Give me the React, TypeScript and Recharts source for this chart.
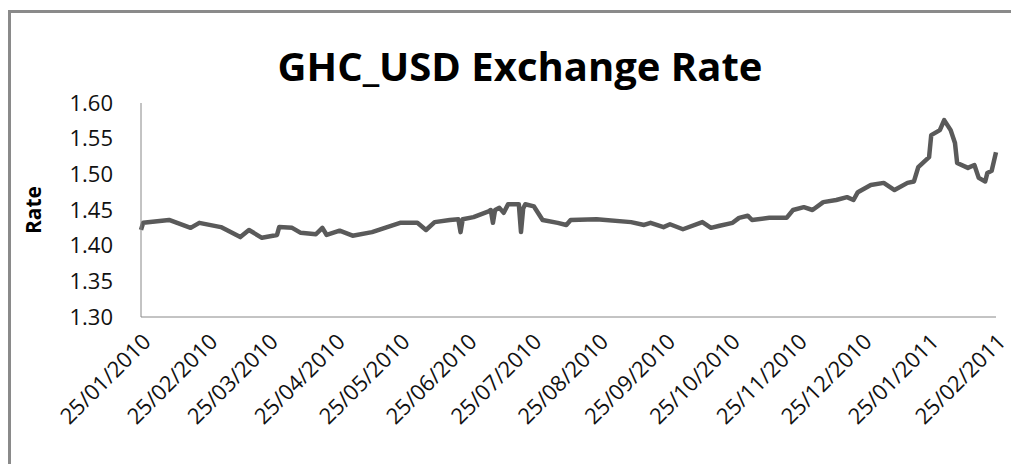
import { LineChart, Line, XAxis, YAxis } from 'recharts'

// days counted from 25/01/2010
const days = [
  0, 1, 13, 23, 27, 37, 46, 50, 56, 63, 64, 70, 74, 81, 84, 86, 92, 98, 107,
  120, 128, 132, 136, 143, 147, 148, 149, 154, 161, 162, 163, 164, 166, 168,
  170, 175, 176, 177, 178, 182, 186, 193, 197, 199, 211, 227, 233, 236, 242,
  245, 251, 260, 264, 268, 274, 277, 281, 283, 291, 299, 302, 307, 311, 316,
  322, 327, 330, 332, 338, 344, 349, 355, 358, 360, 365, 366, 370, 372, 375,
  377, 378, 383, 386, 388, 391, 392, 394, 396,
]
const rates = [
  1.422, 1.432, 1.436, 1.425, 1.432, 1.426, 1.412, 1.422, 1.411, 1.415, 1.426,
  1.425, 1.418, 1.416, 1.425, 1.415, 1.421, 1.414, 1.419, 1.432, 1.432, 1.422,
  1.433, 1.436, 1.437, 1.419, 1.437, 1.44, 1.448, 1.45, 1.432, 1.45, 1.453,
  1.446, 1.458, 1.458, 1.419, 1.452, 1.458, 1.455, 1.436, 1.432, 1.429, 1.436,
  1.437, 1.433, 1.429, 1.432, 1.426, 1.43, 1.423, 1.433, 1.425, 1.428, 1.432,
  1.439, 1.442, 1.436, 1.439, 1.439, 1.45, 1.454, 1.45, 1.461, 1.464, 1.468,
  1.464, 1.475, 1.485, 1.488, 1.478, 1.488, 1.49, 1.51, 1.524, 1.555, 1.562,
  1.576, 1.562, 1.544, 1.516, 1.509, 1.513, 1.495, 1.49, 1.502, 1.505, 1.531,
]

const tickDays = [0, 31, 59, 90, 120, 151, 181, 212, 243, 273, 304, 334, 365, 396]
const tickLabels = [
  '25/01/2010', '25/02/2010', '25/03/2010', '25/04/2010', '25/05/2010',
  '25/06/2010', '25/07/2010', '25/08/2010', '25/09/2010', '25/10/2010',
  '25/11/2010', '25/12/2010', '25/01/2011', '25/02/2011',
]
const rateTicks = [1.3, 1.35, 1.4, 1.45, 1.5, 1.55, 1.6]

const data = days.map((d, i) => ({ day: d, rate: rates[i] }))

const font = '"Open Sans", sans-serif'

export default function App() {
  return (
    <div style={{ position: 'relative', width: 1011, height: 456, overflow: 'hidden' }}>
      {/* caption of the page above, mostly cut off */}
      <div
        style={{
          position: 'absolute',
          left: 0,
          top: -25,
          fontFamily: '"Liberation Serif", serif',
          fontWeight: 'bold',
          fontSize: 21,
          whiteSpace: 'nowrap',
        }}
      >
        y Observed Exchange Rates of the GHC-USD
      </div>
      <div
        style={{
          position: 'absolute',
          left: 0,
          top: 2,
          width: 1100,
          height: 600,
          borderLeft: '3px solid #8a8a8a',
          borderTop: '3px solid #8a8a8a',
        }}
      />
      <div
        style={{
          position: 'absolute',
          left: 0,
          top: 38,
          width: 1024,
          textAlign: 'center',
          fontFamily: font,
          fontWeight: 'bold',
          fontSize: 40,
          lineHeight: '40px',
          color: '#000',
        }}
      >
        GHC_USD Exchange Rate
      </div>
      <div
        style={{
          position: 'absolute',
          left: 25 - 50,
          top: 202 - 12,
          width: 100,
          height: 24,
          lineHeight: '24px',
          textAlign: 'center',
          transform: 'rotate(-90deg)',
          fontFamily: font,
          fontWeight: 'bold',
          fontSize: 21,
          color: '#000',
        }}
      >
        Rate
      </div>
      <div style={{ position: 'absolute', left: 0, top: 0 }}>
        <LineChart
          width={1011}
          height={456}
          data={data}
          margin={{ top: 95, right: 23, left: 0, bottom: 27 }}
        >
          <XAxis
            dataKey="day"
            type="number"
            domain={[0, 396]}
            ticks={tickDays}
            interval={0}
            tickFormatter={(v: number) => tickLabels[tickDays.indexOf(v)]}
            angle={-45}
            textAnchor="end"
            height={120}
            tickLine={false}
            tickSize={0}
            tickMargin={15}
            axisLine={{ stroke: '#888' }}
            tick={{ fill: '#111', fontSize: 22, fontFamily: font }}
          />
          <YAxis
            domain={[1.3, 1.6]}
            ticks={rateTicks}
            interval={0}
            tickFormatter={(v: number) => v.toFixed(2)}
            width={133}
            tickLine={false}
            tickSize={0}
            tickMargin={28}
            axisLine={{ stroke: '#888' }}
            tick={{ fill: '#111', fontSize: 22, fontFamily: font }}
          />
          <Line
            dataKey="rate"
            type="linear"
            stroke="#5a5a5a"
            strokeWidth={4.5}
            strokeLinejoin="round"
            dot={false}
            isAnimationActive={false}
          />
        </LineChart>
      </div>
    </div>
  )
}
